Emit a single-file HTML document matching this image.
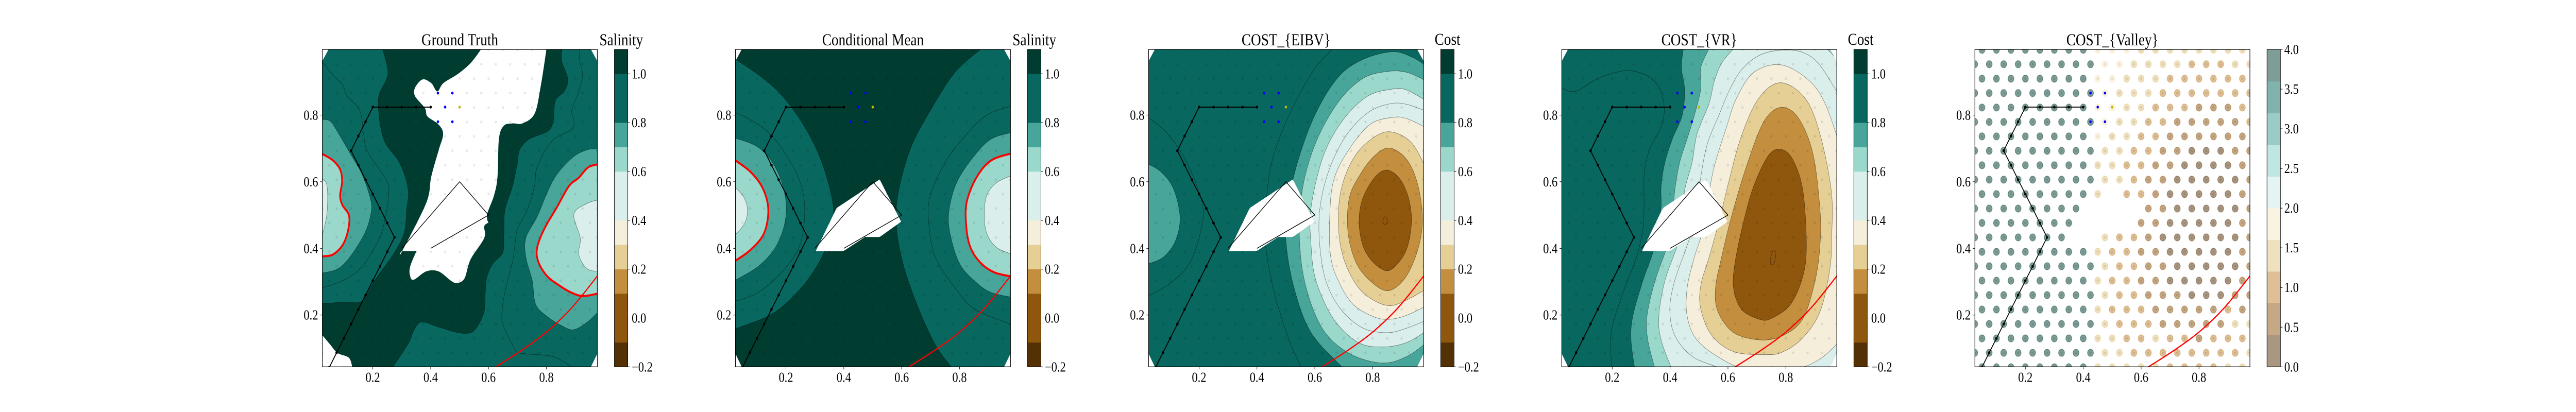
<!DOCTYPE html>
<html lang="en">
<head>
<meta charset="utf-8">
<title>Cost fields</title>
<style>
html,body{margin:0;padding:0;background:#fff;width:100%;height:100%;overflow:hidden;}
svg{display:block;width:100vw;height:100vh;}
text{font-family:"Liberation Serif",serif;fill:#000;}
.title{font-size:32.7px;text-anchor:middle;}
</style>
</head>
<body>
<svg id="figure" xmlns="http://www.w3.org/2000/svg" viewBox="0 0 6000 800" preserveAspectRatio="none">
  <rect x="0" y="0" width="6000" height="800" fill="#fff"/>
  <text class="title" x="1071" y="88">Ground Truth</text>
  <text class="title" x="2033.3" y="88">Conditional Mean</text>
  <text class="title" x="2995.6" y="88">COST_{EIBV}</text>
  <text class="title" x="3957.9" y="88">COST_{VR}</text>
  <text class="title" x="4920.2" y="88">COST_{Valley}</text>
  <text class="title" x="1447" y="88">Salinity</text>
  <text class="title" x="2409.3" y="88">Salinity</text>
  <text class="title" x="3371.6" y="87">Cost</text>
  <text class="title" x="4333.9" y="87">Cost</text>
</svg>
<script>
// ---------- axis ticks ----------
const axisTicks = [0.2, 0.4, 0.6, 0.8];
const axisTickLabels = ['0.2', '0.4', '0.6', '0.8'];
const fieldBarLevels = [-0.2, -0.1, 0.1, 0.2, 0.3, 0.4, 0.6, 0.7, 0.8, 1.0, 1.1];
const fieldBarTicks = [-0.2, 0, 0.2, 0.4, 0.6, 0.8, 1.0];
const fieldBarLabels = ['\u22120.2', '0.0', '0.2', '0.4', '0.6', '0.8', '1.0'];
const valleyBarLevels = [0, 0.4, 0.8, 1.2, 1.6, 2.0, 2.4, 2.8, 3.2, 3.6, 4.0];
const valleyBarTicks = [0, 0.5, 1, 1.5, 2, 2.5, 3, 3.5, 4];
const valleyBarLabels = ['0.0', '0.5', '1.0', '1.5', '2.0', '2.5', '3.0', '3.5', '4.0'];

// ---------- trajectory, candidates, polygon, boundary ----------
const pathX = [0.4,0.35,0.3,0.25,0.2,0.175,0.15,0.125,0.15,0.175,0.2,0.225,0.25,0.275,0.25,0.225,0.2,0.175,0.15,0.125,0.1,0.075,0.05];
const pathY = [0.824,0.824,0.824,0.824,0.824,0.78,0.737,0.693,0.65,0.606,0.563,0.52,0.476,0.433,0.39,0.346,0.303,0.26,0.217,0.173,0.13,0.087,0.0433];
const candidateX = [0.425,0.475,0.45,0.425,0.475];
const candidateY = [0.866,0.866,0.824,0.78,0.78];
const nextPointX = [0.5];
const nextPointY = [0.824];
const obstacleX = [0.3,0.5,0.6,0.4];
const obstacleY = [0.4,0.6,0.5,0.4];
const obstacleMaskX = [0.303,0.375,0.524,0.598,0.524,0.473,0.399];
const obstacleMaskY = [0.392,0.521,0.607,0.48,0.434,0.434,0.392];
const boundaryX = [0.61,0.6255,0.7166,0.8017,0.8868,0.976,0.99];
const boundaryY = [0.035,0.0445,0.0955,0.15,0.221,0.317,0.335];

// ---------- hexagonal grid rows and valley cost per grid point ----------
const gridRowY = [0.0433,0.0866,0.1299,0.1732,0.2165,0.2598,0.3031,0.3464,0.3897,0.433,0.4763,0.5196,0.5629,0.6062,0.6495,0.6928,0.7361,0.7794,0.8227,0.866,0.9093,0.9526,0.9959];
const valleyRows = [
[3.8,3.8,3.8,3.8,3.8,3.8,3.8,3.8,1.4,1.4,1.4,1.4,1.4,1.0,1.0,1.0,1.0,1.4,1.4],
[3.8,3.8,3.8,3.8,3.8,3.8,3.8,3.8,3.8,1.4,1.4,1.0,1.0,1.0,1.0,1.0,1.0,1.0,1.0,1.4],
[3.8,3.8,3.8,3.8,3.8,3.8,3.8,3.8,1.4,1.4,1.0,1.0,1.4,1.0,1.0,0.6,1.0,1.0,1.0],
[3.8,3.8,3.8,3.8,3.8,3.8,3.8,3.8,3.8,1.4,1.0,1.0,1.0,0.6,0.6,0.6,0.6,0.6,1.4,1.4],
[3.8,3.8,3.8,3.8,3.8,3.8,3.8,3.8,1.4,1.0,1.0,1.0,0.6,0.6,0.6,0.6,0.6,1.0,0.6],
[3.8,3.8,3.8,3.8,3.8,3.8,3.8,3.8,3.8,1.4,1.0,1.0,0.6,0.6,0.6,0.2,0.2,0.2,0.6,0.6],
[3.8,3.8,3.8,3.8,3.8,3.8,3.8,3.8,1.4,1.0,1.0,0.6,0.6,0.2,0.2,0.2,0.2,0.2,0.6],
[3.8,3.8,3.8,3.8,3.8,3.8,3.8,3.8,3.8,1.4,1.0,1.0,0.6,0.6,0.2,0.2,0.2,0.2,0.2,0.6],
[3.8,3.8,3.8,3.8,3.8,3.8,3.8,3.8,1.4,1.0,1.0,0.6,0.6,0.2,0.2,0.2,0.2,0.2,0.6],
[3.8,3.8,3.8,3.8,3.8,3.8,3.8,null,null,1.4,1.0,1.0,0.6,0.2,0.2,0.2,0.2,0.2,0.2,0.6],
[3.8,3.8,3.8,3.8,3.8,3.8,3.8,null,null,null,null,0.6,0.6,0.2,0.2,0.2,0.2,0.2,0.6],
[3.8,3.8,3.8,3.8,3.8,3.8,3.8,3.8,null,null,null,null,0.6,0.6,0.2,0.2,0.2,0.2,0.2,0.6],
[3.8,3.8,3.8,3.8,3.8,3.8,3.8,3.8,1.4,null,1.0,1.0,0.6,0.2,0.2,0.2,0.2,0.2,0.6],
[3.8,3.8,3.8,3.8,3.8,3.8,3.8,3.8,3.8,1.4,1.4,1.0,0.6,0.6,0.2,0.2,0.2,0.2,0.2,0.6],
[3.8,3.8,3.8,3.8,3.8,3.8,3.8,3.8,1.4,1.4,1.0,1.0,0.6,0.6,0.2,0.2,0.2,0.2,0.6],
[3.8,3.8,3.8,3.8,3.8,3.8,3.8,3.8,3.8,1.4,1.4,1.0,1.0,0.6,0.6,0.2,0.2,0.2,0.6,0.6],
[3.8,3.8,3.8,3.8,3.8,3.8,3.8,3.8,1.8,1.4,1.4,1.0,1.0,0.6,0.6,0.6,0.6,0.6,0.6],
[3.8,3.8,3.8,3.8,3.8,3.8,3.8,3.8,3.8,1.8,1.4,1.4,1.0,1.0,0.6,0.6,0.6,0.6,0.6,1.0],
[3.8,3.8,3.8,3.8,3.8,3.8,3.8,3.8,1.8,1.8,1.4,1.4,1.0,1.0,1.0,0.6,0.6,0.6,1.0],
[3.8,3.8,3.8,3.8,3.8,3.8,3.8,3.8,3.8,1.8,1.4,1.4,1.4,1.0,1.0,1.0,1.0,1.0,1.0,1.0],
[3.8,3.8,3.8,3.8,3.8,3.8,3.8,3.8,1.8,1.8,1.4,1.4,1.4,1.0,1.0,1.0,1.0,1.0,1.0],
[3.8,3.8,3.8,3.8,3.8,3.8,3.8,3.8,3.8,1.8,1.8,1.4,1.4,1.4,1.4,1.0,1.0,1.0,1.4,1.4],
[3.8,3.8,3.8,3.8,3.8,3.8,3.8,3.8,1.8,1.8,1.8,1.4,1.4,1.4,1.4,1.4,1.4,1.4,1.4]
];

// ---------- Ground Truth contours (x, y pairs in data units) ----------
const truthLeft10 = [[0.233,1.0],[0.249,0.949],[0.25,0.914],[0.223,0.864],[0.219,0.828],[0.227,0.764],[0.244,0.715],[0.287,0.665],[0.312,0.615],[0.323,0.566],[0.317,0.516],[0.308,0.445],[0.27,0.381],[0.206,0.303],[0.163,0.242],[0.104,0.239],[0.026,0.234]];
const truthLeft09 = [[0.026,0.96],[0.061,0.921],[0.095,0.892],[0.112,0.857],[0.155,0.814],[0.168,0.743],[0.18,0.693],[0.223,0.637],[0.253,0.594],[0.254,0.551],[0.244,0.495],[0.223,0.431],[0.163,0.345],[0.095,0.303],[0.026,0.282]];
const truthLeft08 = [[0.026,0.787],[0.053,0.782],[0.078,0.75],[0.121,0.686],[0.163,0.622],[0.193,0.544],[0.193,0.502],[0.172,0.445],[0.121,0.374],[0.078,0.338],[0.026,0.326]];
const truthLeft07 = [[0.026,0.683],[0.061,0.665],[0.087,0.637],[0.094,0.601],[0.087,0.559],[0.095,0.53],[0.118,0.498],[0.114,0.452],[0.095,0.409],[0.061,0.381],[0.026,0.376]];
const truthLeft06 = [[0.026,0.608],[0.04,0.594],[0.044,0.551],[0.04,0.495],[0.026,0.441]];
const truthRight10 = [[0.855,1.0],[0.853,0.963],[0.874,0.907],[0.861,0.871],[0.831,0.843],[0.823,0.779],[0.802,0.75],[0.742,0.729],[0.708,0.697],[0.7,0.658],[0.683,0.587],[0.657,0.516],[0.653,0.445],[0.649,0.388],[0.614,0.353],[0.593,0.31],[0.589,0.267],[0.585,0.211],[0.563,0.168],[0.538,0.147],[0.495,0.147],[0.427,0.164],[0.368,0.179],[0.342,0.154],[0.325,0.118],[0.27,0.044],[0.262,0.03]];
const truthRight09 = [[0.915,1.0],[0.915,0.963],[0.925,0.921],[0.912,0.871],[0.887,0.814],[0.895,0.786],[0.887,0.757],[0.819,0.722],[0.768,0.644],[0.759,0.587],[0.734,0.516],[0.7,0.459],[0.691,0.409],[0.683,0.36],[0.666,0.303],[0.649,0.232],[0.649,0.175],[0.683,0.111],[0.708,0.086],[0.819,0.076],[0.887,0.044],[0.89,0.03]];
const truthRight08 = [[0.99,0.697],[0.946,0.697],[0.895,0.676],[0.836,0.622],[0.802,0.566],[0.768,0.495],[0.729,0.431],[0.729,0.374],[0.751,0.303],[0.763,0.232],[0.802,0.196],[0.853,0.168],[0.895,0.156],[0.946,0.182],[0.99,0.22]];
const truthRight07 = [[0.99,0.654],[0.946,0.644],[0.912,0.612],[0.878,0.587],[0.836,0.523],[0.793,0.459],[0.768,0.402],[0.772,0.36],[0.802,0.317],[0.844,0.289],[0.887,0.267],[0.929,0.257],[0.99,0.267]];
const truthRight06 = [[0.99,0.548],[0.938,0.534],[0.895,0.502],[0.917,0.431],[0.912,0.381],[0.942,0.338],[0.99,0.331]];
const truthPlateau = [[0.585,1.013],[0.585,1.013],[0.574,0.997],[0.538,0.956],[0.495,0.924],[0.444,0.896],[0.423,0.871],[0.402,0.896],[0.372,0.907],[0.346,0.882],[0.346,0.857],[0.38,0.821],[0.389,0.796],[0.427,0.772],[0.443,0.743],[0.427,0.693],[0.402,0.615],[0.385,0.537],[0.302,0.392],[0.302,0.392],[0.351,0.392],[0.351,0.392],[0.329,0.345],[0.329,0.317],[0.342,0.306],[0.385,0.331],[0.427,0.331],[0.47,0.303],[0.491,0.296],[0.517,0.31],[0.538,0.367],[0.585,0.431],[0.585,0.466],[0.599,0.477],[0.599,0.477],[0.595,0.502],[0.619,0.559],[0.631,0.615],[0.636,0.729],[0.653,0.768],[0.683,0.775],[0.717,0.775],[0.759,0.804],[0.78,0.885],[0.8,0.997],[0.802,1.013],[0.802,1.013]];
const truthCornerPlateau = [[0.026,0.139],[0.053,0.111],[0.078,0.086],[0.117,0.072],[0.129,0.044],[0.13,0.03]];

// ---------- Conditional Mean contours ----------
const meanLeft10 = [[0.02,0.971],[0.111,0.917],[0.188,0.857],[0.265,0.764],[0.324,0.658],[0.363,0.53],[0.354,0.445],[0.324,0.374],[0.273,0.303],[0.205,0.239],[0.137,0.196],[0.02,0.157]];
const meanLeft09 = [[0.02,0.81],[0.077,0.786],[0.137,0.75],[0.197,0.686],[0.248,0.601],[0.265,0.516],[0.248,0.409],[0.188,0.331],[0.103,0.267],[0.02,0.24]];
const meanLeft08 = [[0.02,0.732],[0.103,0.704],[0.163,0.644],[0.197,0.559],[0.197,0.48],[0.163,0.402],[0.103,0.345],[0.02,0.302]];
const meanLeft07 = [[0.02,0.667],[0.077,0.63],[0.12,0.58],[0.139,0.516],[0.124,0.445],[0.077,0.395],[0.02,0.36]];
const meanLeft06 = [[0.02,0.588],[0.056,0.551],[0.067,0.512],[0.056,0.473],[0.02,0.437]];
const meanRight10 = [[0.876,1.0],[0.784,0.928],[0.699,0.814],[0.631,0.701],[0.588,0.566],[0.582,0.466],[0.605,0.353],[0.656,0.225],[0.716,0.111],[0.771,0.044],[0.78,0.03]];
const meanRight09 = [[0.99,0.83],[0.894,0.8],[0.818,0.736],[0.75,0.658],[0.699,0.559],[0.693,0.48],[0.716,0.374],[0.784,0.282],[0.852,0.218],[0.99,0.168]];
const meanRight08 = [[0.99,0.75],[0.911,0.729],[0.852,0.679],[0.792,0.601],[0.764,0.516],[0.767,0.445],[0.801,0.353],[0.86,0.296],[0.911,0.267],[0.99,0.252]];
const meanRight07 = [[0.99,0.687],[0.911,0.665],[0.86,0.615],[0.826,0.544],[0.822,0.48],[0.835,0.409],[0.869,0.36],[0.92,0.328],[0.99,0.314]];
const meanRight06 = [[0.99,0.622],[0.929,0.598],[0.894,0.559],[0.886,0.502],[0.894,0.445],[0.929,0.402],[0.99,0.38]];

// ---------- EIBV cost contours ----------
const eibvLeft09 = [[0.02,0.795],[0.085,0.75],[0.153,0.665],[0.209,0.544],[0.209,0.466],[0.17,0.36],[0.102,0.296],[0.02,0.256]];
const eibvLeft08 = [[0.02,0.655],[0.068,0.63],[0.111,0.58],[0.134,0.495],[0.119,0.424],[0.077,0.374],[0.02,0.352]];
const eibvRight09 = [[0.664,1.0],[0.596,0.935],[0.511,0.8],[0.451,0.658],[0.43,0.516],[0.43,0.409],[0.46,0.267],[0.511,0.125],[0.553,0.044],[0.56,0.03]];
const eibvRight08 = [[0.99,0.945],[0.936,0.974],[0.868,0.99],[0.766,0.967],[0.681,0.914],[0.604,0.807],[0.545,0.672],[0.506,0.53],[0.5,0.424],[0.528,0.282],[0.587,0.147],[0.694,0.044],[0.71,0.03]];
const eibvRight07 = [[0.99,0.9],[0.919,0.928],[0.851,0.931],[0.766,0.91],[0.681,0.839],[0.604,0.719],[0.557,0.577],[0.547,0.424],[0.57,0.282],[0.63,0.154],[0.723,0.083],[0.834,0.056],[0.919,0.076],[0.99,0.12]];
const eibvRight06 = [[0.99,0.84],[0.919,0.875],[0.868,0.878],[0.783,0.857],[0.698,0.786],[0.63,0.679],[0.587,0.523],[0.587,0.409],[0.604,0.303],[0.664,0.189],[0.749,0.118],[0.834,0.104],[0.919,0.118],[0.99,0.155]];
const eibvRight05 = [[0.99,0.81],[0.919,0.832],[0.86,0.834],[0.783,0.807],[0.706,0.736],[0.647,0.63],[0.617,0.516],[0.617,0.409],[0.638,0.303],[0.689,0.218],[0.766,0.161],[0.851,0.147],[0.919,0.161],[0.99,0.186]];
const eibvRight04 = [[0.99,0.76],[0.919,0.789],[0.868,0.793],[0.791,0.772],[0.715,0.693],[0.664,0.601],[0.651,0.48],[0.655,0.374],[0.681,0.303],[0.732,0.232],[0.809,0.193],[0.868,0.188],[0.928,0.203],[0.99,0.23]];
const eibvRight03 = [[0.99,0.63],[0.936,0.715],[0.868,0.749],[0.809,0.736],[0.74,0.679],[0.694,0.587],[0.681,0.48],[0.698,0.374],[0.745,0.289],[0.8,0.246],[0.86,0.228],[0.919,0.246],[0.99,0.28]];
const eibvCore02 = [[0.86,0.701],[0.919,0.665],[0.957,0.587],[0.972,0.48],[0.953,0.388],[0.911,0.31],[0.855,0.273],[0.8,0.296],[0.745,0.353],[0.715,0.445],[0.719,0.551],[0.757,0.622],[0.808,0.679]];
const eibvCore01 = [[0.851,0.635],[0.894,0.608],[0.924,0.551],[0.934,0.48],[0.919,0.402],[0.885,0.353],[0.847,0.333],[0.8,0.36],[0.766,0.409],[0.753,0.48],[0.766,0.551],[0.809,0.615]];
const eibvCore00 = [[0.851,0.483],[0.843,0.495],[0.835,0.483],[0.843,0.471]];

// ---------- VR cost contours ----------
const vrWest09 = [[0.02,0.885],[0.05,0.872],[0.084,0.875],[0.144,0.907],[0.212,0.928],[0.263,0.933],[0.323,0.917],[0.365,0.878],[0.38,0.814],[0.365,0.757],[0.331,0.701],[0.311,0.63],[0.31,0.53],[0.306,0.459],[0.284,0.374],[0.237,0.267],[0.199,0.161],[0.195,0.09],[0.199,0.044],[0.199,0.03]];
const vrWest08 = [[0.446,1.0],[0.439,0.942],[0.45,0.878],[0.442,0.8],[0.408,0.729],[0.382,0.658],[0.369,0.587],[0.368,0.516],[0.348,0.409],[0.306,0.303],[0.271,0.196],[0.265,0.125],[0.277,0.044],[0.28,0.03]];
const vrWest07 = [[0.535,1.0],[0.506,0.942],[0.506,0.878],[0.484,0.8],[0.459,0.729],[0.433,0.658],[0.416,0.573],[0.408,0.48],[0.391,0.409],[0.348,0.303],[0.32,0.196],[0.323,0.125],[0.346,0.044],[0.35,0.03]];
const vrWest06 = [[0.62,1.0],[0.578,0.956],[0.552,0.899],[0.535,0.836],[0.493,0.743],[0.476,0.658],[0.45,0.573],[0.442,0.48],[0.425,0.409],[0.382,0.303],[0.361,0.196],[0.369,0.125],[0.403,0.044],[0.41,0.03]];
const vrRing05 = [[0.99,0.85],[0.918,0.949],[0.859,0.988],[0.782,0.995],[0.706,0.978],[0.646,0.935],[0.603,0.871],[0.569,0.8],[0.527,0.708],[0.501,0.587],[0.484,0.48],[0.459,0.409],[0.416,0.303],[0.399,0.218],[0.416,0.139],[0.476,0.076],[0.561,0.044],[0.58,0.03]];
const vrRing04 = [[0.99,0.7],[0.935,0.836],[0.876,0.907],[0.782,0.951],[0.689,0.928],[0.629,0.85],[0.595,0.764],[0.552,0.644],[0.527,0.53],[0.51,0.445],[0.484,0.374],[0.459,0.282],[0.459,0.196],[0.493,0.125],[0.578,0.068],[0.663,0.04],[0.833,0.04],[0.918,0.068],[0.99,0.125]];
const vrCore03 = [[0.782,0.897],[0.867,0.85],[0.918,0.743],[0.957,0.573],[0.959,0.445],[0.952,0.338],[0.918,0.21],[0.859,0.132],[0.791,0.09],[0.731,0.081],[0.62,0.09],[0.544,0.139],[0.506,0.218],[0.506,0.289],[0.535,0.374],[0.569,0.48],[0.603,0.601],[0.646,0.736],[0.706,0.85]];
const vrCore02 = [[0.782,0.823],[0.842,0.793],[0.893,0.686],[0.918,0.516],[0.918,0.409],[0.901,0.303],[0.859,0.189],[0.791,0.139],[0.714,0.125],[0.62,0.147],[0.565,0.211],[0.557,0.282],[0.578,0.374],[0.612,0.495],[0.663,0.644],[0.723,0.779]];
const vrCore01 = [[0.784,0.697],[0.825,0.665],[0.859,0.573],[0.871,0.409],[0.859,0.317],[0.816,0.232],[0.748,0.189],[0.706,0.188],[0.646,0.218],[0.619,0.282],[0.625,0.36],[0.654,0.48],[0.689,0.587],[0.74,0.679]];
const vrCore00 = [[0.765,0.39],[0.757,0.394],[0.747,0.37],[0.748,0.354],[0.757,0.352],[0.764,0.372]];

// ---------- layers: [band value, curve, closing corners] ----------
const truthLayers = [
  [0.9, truthLeft10, [[0,0.233],[0,1.02]]],
  [0.9, truthRight10, [[1,0],[1,1.02]]],
  [0.9, truthLeft09, [[0,0.282],[0,0.96]]],
  [0.9, truthRight09, [[1,0],[1,1.02]]],
  [0.75, truthLeft08, [[0,0.326],[0,0.787]]],
  [0.75, truthRight08, [[1,0.22],[1,0.697]]],
  [0.65, truthLeft07, [[0,0.376],[0,0.683]], 'threshold'],
  [0.65, truthRight07, [[1,0.267],[1,0.654]], 'threshold'],
  [0.5, truthLeft06, [[0,0.441],[0,0.608]]],
  [0.5, truthRight06, [[1,0.331],[1,0.548]]]
];
const meanLayers = [
  [0.9, meanLeft10, [[0,0.157],[0,0.971]]],
  [0.9, meanRight10, [[1,0],[1,1.02]]],
  [0.9, meanLeft09, [[0,0.24],[0,0.81]]],
  [0.9, meanRight09, [[1,0.168],[1,0.83]]],
  [0.75, meanLeft08, [[0,0.302],[0,0.732]]],
  [0.75, meanRight08, [[1,0.252],[1,0.75]]],
  [0.65, meanLeft07, [[0,0.36],[0,0.667]], 'threshold'],
  [0.65, meanRight07, [[1,0.314],[1,0.687]], 'threshold'],
  [0.5, meanLeft06, [[0,0.437],[0,0.588]]],
  [0.5, meanRight06, [[1,0.38],[1,0.622]]]
];
const eibvLayers = [
  [0.9, eibvLeft09, [[0,0.256],[0,0.795]]],
  [0.75, eibvLeft08, [[0,0.352],[0,0.655]]],
  [0.9, eibvRight09, [[1,0],[1,1.02]]],
  [0.75, eibvRight08, [[1,0],[1,0.945]]],
  [0.65, eibvRight07, [[1,0.12],[1,0.9]]],
  [0.5, eibvRight06, [[1,0.155],[1,0.84]]],
  [0.5, eibvRight05, [[1,0.186],[1,0.81]]],
  [0.35, eibvRight04, [[1,0.23],[1,0.76]]],
  [0.25, eibvRight03, [[1,0.28],[1,0.63]]],
  [0.15, eibvCore02, null],
  [0, eibvCore01, null],
  [0, eibvCore00, null]
];
const vrLayers = [
  [0.9, vrWest09, [[0.199,0],[1,0],[1,1.02],[0,1.02],[0,0.885]]],
  [0.75, vrWest08, [[1,0],[1,1.02]]],
  [0.65, vrWest07, [[1,0],[1,1.02]]],
  [0.5, vrWest06, [[1,0],[1,0.947],[0.93,1.01]]],
  [0.5, vrRing05, [[1,0],[1,0.85]]],
  [0.35, vrRing04, [[1,0.125],[1,0.7]]],
  [0.25, vrCore03, null],
  [0.15, vrCore02, null],
  [0, vrCore01, null],
  [0, vrCore00, null]
];
const domainCorners = [
  [[0.0255,0.962],[0.047,0.997],[0.0255,0.997]],
  [[0.954,0.997],[0.976,0.962],[0.976,0.997]],
  [[0.0255,0.084],[0.047,0.0445],[0.0255,0.0445]],
  [[0.954,0.0445],[0.976,0.084],[0.976,0.0445]]
];

// ---------- layout and scales ----------
const bandColors = ['#543005','#8f570d','#c38e3e','#e5cf94','#f5eedb','#daefeb','#9ad8cc','#47a59a','#08675f','#003c30'];
const valleyColors = ['#543005','#8c510a','#bf812d','#dfc27d','#f6e8c3','#c7eae5','#80cdc1','#35978f','#01665e','#003c30'];
const xMin = 0.0255, xMax = 0.976, yMin = 0.0445, yMax = 0.997;
const axisTop = 96, axisHeight = 616.3, axisWidth = 640.6;
const panelLeft = i => 750.7 + 962.3 * i;
const xScale = (i, v) => panelLeft(i) + (v - xMin) * axisWidth / (xMax - xMin);
const yScale = v => axisTop + (yMax - v) * axisHeight / (yMax - yMin);
const barScale = (v, lo, hi) => axisTop + axisHeight - (v - lo) / (hi - lo) * axisHeight;
const svgNS = 'http://www.w3.org/2000/svg';
const figure = document.getElementById('figure');

function make(parent, tag, attrs) {
  const node = document.createElementNS(svgNS, tag);
  for (const key in attrs) node.setAttribute(key, attrs[key]);
  parent.appendChild(node);
  return node;
}
function bandIndex(value, levels) {
  for (let b = 0; b < levels.length - 1; b++) {
    if (value >= levels[b] && value < levels[b + 1]) return b;
  }
  return levels.length - 2;
}
function smoothSegments(pts, closed) {
  const n = pts.length;
  let d = '';
  const at = k => closed ? pts[(k + n) % n] : pts[Math.max(0, Math.min(n - 1, k))];
  const last = closed ? n : n - 1;
  for (let k = 0; k < last; k++) {
    const p0 = at(k - 1), p1 = at(k), p2 = at(k + 1), p3 = at(k + 2);
    const c1x = p1[0] + (p2[0] - p0[0]) / 6, c1y = p1[1] + (p2[1] - p0[1]) / 6;
    const c2x = p2[0] - (p3[0] - p1[0]) / 6, c2y = p2[1] - (p3[1] - p1[1]) / 6;
    d += 'C' + c1x.toFixed(2) + ' ' + c1y.toFixed(2) + ' ' + c2x.toFixed(2) + ' ' + c2y.toFixed(2) + ' ' + p2[0].toFixed(2) + ' ' + p2[1].toFixed(2);
  }
  return d;
}
function curvePath(i, curve, closure) {
  const pts = curve.map(p => [xScale(i, p[0]), yScale(p[1])]);
  let d = 'M' + pts[0][0].toFixed(2) + ' ' + pts[0][1].toFixed(2) + smoothSegments(pts, !closure);
  if (closure) {
    closure.forEach(c => { d += 'L' + xScale(i, c[0]).toFixed(2) + ' ' + yScale(c[1]).toFixed(2); });
  }
  return d + 'Z';
}
function openCurve(i, xs, ys) {
  const pts = xs.map((v, k) => [xScale(i, v), yScale(ys[k])]);
  return 'M' + pts[0][0].toFixed(2) + ' ' + pts[0][1].toFixed(2) + smoothSegments(pts, false);
}
function polyPoints(i, xs, ys) {
  return xs.map((v, k) => xScale(i, v).toFixed(2) + ',' + yScale(ys[k]).toFixed(2)).join(' ');
}
function rowX(rowIndex, col) {
  return (rowIndex % 2 === 0 ? 0.05 : 0.025) + col * 0.05;
}

function drawAxes(i, group) {
  const frame = make(group, 'rect', {x: panelLeft(i), y: axisTop, width: axisWidth, height: axisHeight, fill: 'none', stroke: '#000', 'stroke-width': 1.3});
  
  
  axisTicks.forEach((t, k) => {
    const xt = xScale(i, t), yt = yScale(t);
    const xTick = make(group, 'line', {x1: xt, x2: xt, y1: axisTop + axisHeight, y2: axisTop + axisHeight + 5, stroke: '#000', 'stroke-width': 1});
    
    
    const yTick = make(group, 'line', {x1: panelLeft(i) - 5, x2: panelLeft(i), y1: yt, y2: yt, stroke: '#000', 'stroke-width': 1});
    
    
    const xLabel = make(group, 'text', {x: xt, y: axisTop + axisHeight + 29.4, 'font-size': 27, 'text-anchor': 'middle'});
    xLabel.textContent = axisTickLabels[k];
    
    
    const yLabel = make(group, 'text', {x: panelLeft(i) - 9.7, y: yt + 9, 'font-size': 27, 'text-anchor': 'end'});
    yLabel.textContent = axisTickLabels[k];
    
    
  });
}

function drawColorbar(i, group, levels, colors, ticks, labels, opacity) {
  const left = panelLeft(i) + axisWidth + 39.8, width = 31.2;
  const lo = levels[0], hi = levels[levels.length - 1];
  colors.forEach((c, b) => {
    const top = barScale(levels[b + 1], lo, hi), bot = barScale(levels[b], lo, hi);
    const band = make(group, 'rect', {x: left, y: top, width: width, height: bot - top + 0.3, fill: c, 'fill-opacity': opacity});
    
    
  });
  const outline = make(group, 'rect', {x: left, y: axisTop, width: width, height: axisHeight, fill: 'none', stroke: '#000', 'stroke-width': 1.1});
  
  
  ticks.forEach((t, k) => {
    const yt = barScale(t, lo, hi);
    const tick = make(group, 'line', {x1: left + width, x2: left + width + 5, y1: yt, y2: yt, stroke: '#000', 'stroke-width': 1});
    
    
    const label = make(group, 'text', {x: left + width + 9, y: yt + 9, 'font-size': 27});
    label.textContent = labels[k];
    
    
  });
}

function drawObstacle(i, clip) {
  const obstacle = make(clip, 'polyline', {points: polyPoints(i, obstacleX, obstacleY), fill: 'none', stroke: '#000', 'stroke-width': 1.4});
  
  
}

function drawTrack(i, clip, lineWidth) {
  const boundary = make(clip, 'path', {d: openCurve(i, boundaryX, boundaryY), fill: 'none', stroke: '#ff0000', 'stroke-width': 2.5});
  
  
  const track = make(clip, 'polyline', {points: polyPoints(i, pathX, pathY), fill: 'none', stroke: '#000', 'stroke-width': lineWidth});
  
  
  pathX.forEach((v, k) => {
    const dot = make(clip, 'circle', {cx: xScale(i, v), cy: yScale(pathY[k]), r: 2.8, fill: '#000'});
    
    
  });
  candidateX.forEach((v, k) => {
    const dot = make(clip, 'circle', {cx: xScale(i, v), cy: yScale(candidateY[k]), r: 2.8, fill: '#0000ff'});
    
    
  });
  nextPointX.forEach((v, k) => {
    const dot = make(clip, 'circle', {cx: xScale(i, v), cy: yScale(nextPointY[k]), r: 2.8, fill: '#c4ba00'});
    
    
  });
}

function drawGrid(i, clip) {
  valleyRows.forEach((row, r) => {
    row.forEach((value, c) => {
      if (value === null) return;
      const dot = make(clip, 'circle', {cx: xScale(i, rowX(r, c)), cy: yScale(gridRowY[r]), r: 2.7, fill: '#000', 'fill-opacity': 0.09});
      
      
    });
  });
}

function drawFieldPanel(i, name, base, layers, plateaus, useMask) {
  const panel = make(figure, 'g', {});
  
  
  const clipDef = make(panel, 'clipPath', {id: 'clip-' + i});
  make(clipDef, 'rect', {x: panelLeft(i), y: axisTop, width: axisWidth, height: axisHeight});
  const clip = make(panel, 'g', {'clip-path': 'url(#clip-' + i + ')'});
  
  
  const bg = make(clip, 'rect', {x: panelLeft(i), y: axisTop, width: axisWidth, height: axisHeight, fill: bandColors[bandIndex(base, fieldBarLevels)]});
  
  
  layers.forEach(layer => {
    const isThreshold = layer[3] === 'threshold';
    const shape = make(clip, 'path', {
      d: curvePath(i, layer[1], layer[2]),
      fill: bandColors[bandIndex(layer[0], fieldBarLevels)],
      stroke: isThreshold ? '#ff0000' : '#000',
      'stroke-width': isThreshold ? 4 : 0.8,
      'stroke-opacity': isThreshold ? 1 : 0.55
    });
    
    
  });
  plateaus.forEach(p => {
    const shape = make(clip, 'path', {d: curvePath(i, p[0], p[1]), fill: '#fff'});
    
    
  });
  domainCorners.forEach(tri => {
    const corner = make(clip, 'polygon', {points: polyPoints(i, tri.map(p => p[0]), tri.map(p => p[1])), fill: '#fff'});
    
    
  });
  if (useMask) {
    const mask = make(clip, 'polygon', {points: polyPoints(i, obstacleMaskX, obstacleMaskY), fill: '#fff'});
    
    
  }
  drawGrid(i, clip);
  drawObstacle(i, clip);
  drawTrack(i, clip, 2);
  drawAxes(i, panel);
  drawColorbar(i, panel, fieldBarLevels, bandColors, fieldBarTicks, fieldBarLabels, 1);
}

function drawValleyPanel(i) {
  const panel = make(figure, 'g', {});
  
  
  const clipDef = make(panel, 'clipPath', {id: 'clip-' + i});
  make(clipDef, 'rect', {x: panelLeft(i), y: axisTop, width: axisWidth, height: axisHeight});
  const clip = make(panel, 'g', {'clip-path': 'url(#clip-' + i + ')'});
  
  
  valleyRows.forEach((row, r) => {
    row.forEach((value, c) => {
      if (value === null) return;
      const color = valleyColors[bandIndex(value, valleyBarLevels)];
      const dot = make(clip, 'circle', {cx: xScale(i, rowX(r, c)), cy: yScale(gridRowY[r]), r: 6.9, fill: color, 'fill-opacity': 0.5, stroke: color, 'stroke-opacity': 0.4, 'stroke-width': 1.6});
      
      
    });
  });
  drawGrid(i, clip);
  drawTrack(i, clip, 1.9);
  drawAxes(i, panel);
  drawColorbar(i, panel, valleyBarLevels, valleyColors, valleyBarTicks, valleyBarLabels, 0.5);
}

drawFieldPanel(0, 'ground-truth-panel', 1.05, truthLayers, [[truthPlateau, null], [truthCornerPlateau, [[0,0],[0,0.139]]]], false);
drawFieldPanel(1, 'conditional-mean-panel', 1.05, meanLayers, [], true);
drawFieldPanel(2, 'cost-eibv-panel', 0.9, eibvLayers, [], true);
drawFieldPanel(3, 'cost-vr-panel', 0.9, vrLayers, [], true);
drawValleyPanel(4);
</script>
</body>
</html>
